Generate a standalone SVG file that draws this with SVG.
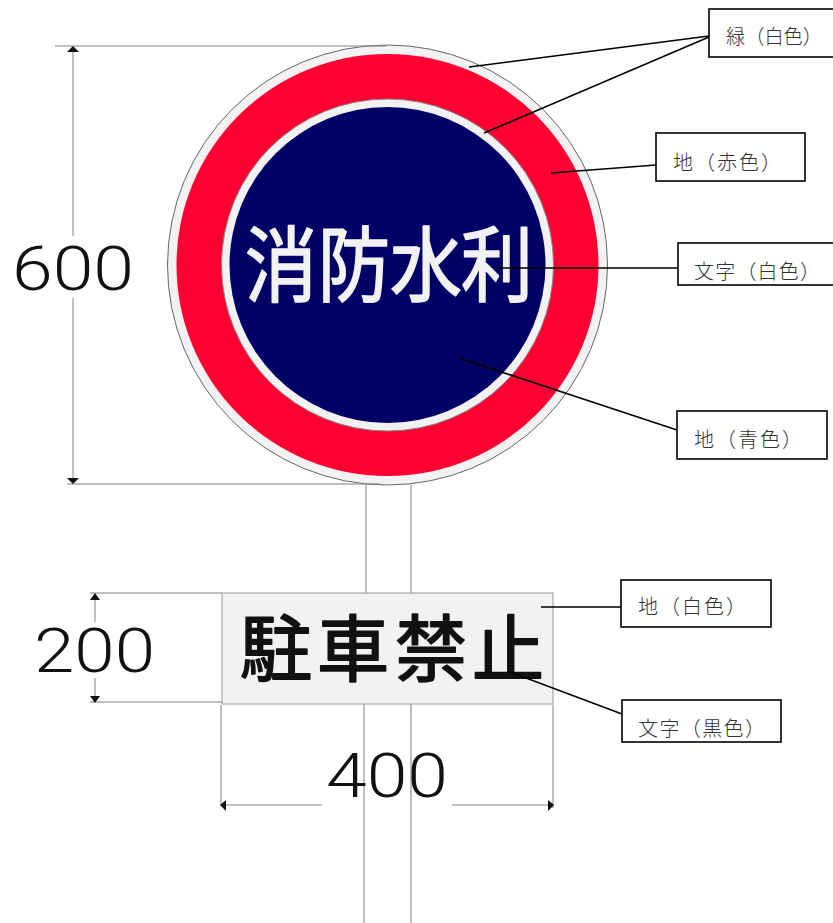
<svg xmlns="http://www.w3.org/2000/svg" width="833" height="923" viewBox="0 0 833 923">
<style>
.dim{stroke:#808080;stroke-width:1;fill:none}
.lead{stroke:#000;stroke-width:1.6;fill:none}
.box{fill:#fff;stroke:#000;stroke-width:1.6}
.lab{font-family:"Noto Sans CJK JP","Noto Sans CJK SC",sans-serif;font-size:20px;font-weight:300;fill:#333}
.num{font-family:Roboto,"Liberation Sans",sans-serif;font-size:62px;font-weight:300;fill:#111}
.sign{font-family:"Noto Sans CJK JP","Noto Sans CJK SC",sans-serif;font-size:72px;text-anchor:middle;stroke-linejoin:round}
.ah{fill:#111}
</style>
<rect width="833" height="923" fill="#fff"/>
<g id="post">
<path class="dim" d="M366 485V593M411 485V593M364 704V923M411 704V923"/>
</g>
<g id="main-sign">
<circle cx="387.5" cy="265" r="220" fill="#f2f2f2" stroke="#666" stroke-width="1"/>
<circle cx="387.5" cy="265" r="211" fill="#ff0033"/>
<circle cx="387.5" cy="265" r="166" fill="#f2f2f2" stroke="#888" stroke-width="1"/>
<circle cx="387.5" cy="265" r="158" fill="#000066"/>
<g class="sign" fill="#f2f2f2" stroke="#f2f2f2" stroke-width="1.5">
<text transform="translate(281,295) scale(1,1.14)">消</text><text transform="translate(354,295) scale(1,1.14)">防</text><text transform="translate(426,295) scale(1,1.14)">水</text><text transform="translate(497,295) scale(1,1.14)">利</text>
</g>
</g>
<g id="sub-sign">
<rect x="222" y="593" width="331" height="111" fill="#f2f2f2" stroke="#999" stroke-width="1"/>
<g class="sign" fill="#111" stroke="#111" stroke-width="1.8">
<text x="276" y="675">駐</text><text x="353" y="675">車</text><text x="431" y="675">禁</text><text x="508" y="675">止</text>
</g>
</g>
<g id="dimensions">
<path class="dim" d="M55 46H387M67 484H380M73 50V236M73 298V480"/>
<polygon class="ah" points="73,46 67,52 79,52"/>
<polygon class="ah" points="73,484 67,478 79,478"/>
<text class="num" x="12" y="290" textLength="122" lengthAdjust="spacingAndGlyphs">600</text>
<path class="dim" d="M90 593H222M90 702H222M95 597V622M95 678V698"/>
<polygon class="ah" points="95,593 90,600 100,600"/>
<polygon class="ah" points="95,703 90,696 100,696"/>
<text class="num" x="34" y="672" textLength="121" lengthAdjust="spacingAndGlyphs">200</text>
<path class="dim" d="M221 705V805M553 705V808M224 805H322M452 805H550"/>
<polygon class="ah" points="220,805 226,800 226,811"/>
<polygon class="ah" points="554,805 548,800 548,811"/>
<text class="num" x="326" y="797" textLength="122" lengthAdjust="spacingAndGlyphs">400</text>
</g>
<g id="connectors">
<path class="lead" d="M709 36L469 67M709 37L484 133M656 165L551 173M678 268L497 268M677 430L459 358M621 607H541M622 714L510 672"/>
</g>
<g id="label-edge"><rect class="box" x="709" y="9" width="130" height="48"/><text class="lab" x="726" y="44" textLength="96" lengthAdjust="spacingAndGlyphs">緑（白色）</text></g>
<g id="label-red"><rect class="box" x="656" y="133" width="149" height="48"/><text class="lab" x="673" y="170" textLength="108">地（赤色）</text></g>
<g id="label-white-text"><rect class="box" x="678" y="243" width="160" height="42"/><text class="lab" x="694" y="279" textLength="126">文字（白色）</text></g>
<g id="label-blue"><rect class="box" x="677" y="411" width="150" height="48"/><text class="lab" x="694" y="447" textLength="108">地（青色）</text></g>
<g id="label-white"><rect class="box" x="621" y="580" width="150" height="47"/><text class="lab" x="638" y="614" textLength="108">地（白色）</text></g>
<g id="label-black"><rect class="box" x="622" y="700" width="159" height="42"/><text class="lab" x="638" y="736" textLength="127">文字（黒色）</text></g>
</svg>
